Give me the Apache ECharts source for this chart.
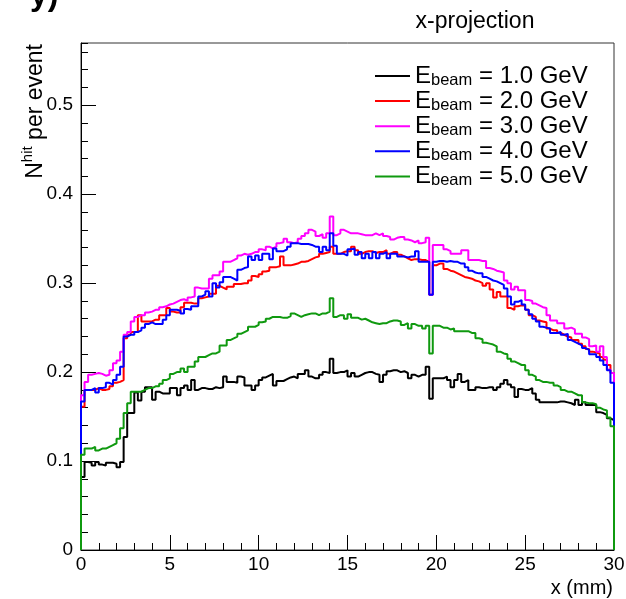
<!DOCTYPE html>
<html>
<head>
<meta charset="utf-8">
<script src="https://cdn.jsdelivr.net/npm/echarts@6/dist/echarts.min.js"></script>
<style>
html, body { margin: 0; padding: 0; background: #fff; }
#main { width: 626px; height: 599px; }
</style>
</head>
<body>
<div id="main"></div>
<script>
// bin contents, 150 bins of 0.2 mm from x = 0 to 30 mm
var binWidth = 0.2;
var energies = ['1.0', '2.0', '3.0', '4.0', '5.0'];
var colors = ['#000000', '#ff0000', '#ff00ff', '#0000ff', '#0f990f'];

var e1 = [
  0.082, 0.099, 0.098, 0.095, 0.099, 0.096, 0.095, 0.098, 0.098, 0.097,
  0.093, 0.099, 0.127, 0.154, 0.154, 0.177, 0.168, 0.178, 0.183, 0.183,
  0.169, 0.178, 0.176, 0.176, 0.176, 0.182, 0.182, 0.174, 0.182, 0.185,
  0.180, 0.191, 0.180, 0.182, 0.182, 0.181, 0.181, 0.183, 0.182, 0.183,
  0.195, 0.189, 0.189, 0.188, 0.195, 0.194, 0.185, 0.185, 0.180, 0.185,
  0.191, 0.194, 0.196, 0.198, 0.185, 0.190, 0.190, 0.192, 0.194, 0.195,
  0.193, 0.198, 0.198, 0.202, 0.195, 0.193, 0.193, 0.197, 0.200, 0.199,
  0.215, 0.199, 0.200, 0.200, 0.202, 0.195, 0.199, 0.195, 0.197, 0.199,
  0.200, 0.200, 0.198, 0.197, 0.189, 0.197, 0.201, 0.202, 0.202, 0.200,
  0.201, 0.199, 0.193, 0.197, 0.195, 0.197, 0.197, 0.206, 0.170, 0.193,
  0.193, 0.193, 0.195, 0.191, 0.183, 0.191, 0.198, 0.189, 0.191, 0.180,
  0.180, 0.183, 0.182, 0.182, 0.183, 0.183, 0.180, 0.183, 0.187, 0.191,
  0.186, 0.183, 0.172, 0.181, 0.180, 0.180, 0.182, 0.176, 0.169, 0.166,
  0.166, 0.166, 0.166, 0.166, 0.167, 0.167, 0.166, 0.165, 0.163, 0.169,
  0.163, 0.166, 0.163, 0.163, 0.163, 0.155, 0.154, 0.152, 0.148, 0.146
];
var e2 = [
  0.161, 0.180, 0.180, 0.180, 0.182, 0.180, 0.180, 0.181, 0.184, 0.188,
  0.189, 0.191, 0.238, 0.242, 0.245, 0.245, 0.264, 0.257, 0.257, 0.257,
  0.259, 0.259, 0.264, 0.264, 0.272, 0.268, 0.267, 0.267, 0.273, 0.278,
  0.278, 0.277, 0.277, 0.283, 0.284, 0.285, 0.288, 0.288, 0.297, 0.295,
  0.293, 0.296, 0.296, 0.299, 0.299, 0.300, 0.300, 0.303, 0.308, 0.307,
  0.310, 0.313, 0.314, 0.318, 0.318, 0.319, 0.330, 0.320, 0.320, 0.321,
  0.322, 0.324, 0.324, 0.325, 0.327, 0.329, 0.330, 0.333, 0.334, 0.335,
  0.341, 0.333, 0.333, 0.335, 0.336, 0.336, 0.341, 0.337, 0.333, 0.335,
  0.336, 0.336, 0.334, 0.335, 0.335, 0.337, 0.333, 0.335, 0.335, 0.332,
  0.330, 0.328, 0.326, 0.327, 0.327, 0.326, 0.326, 0.324, 0.287, 0.320,
  0.322, 0.322, 0.316, 0.314, 0.313, 0.311, 0.309, 0.307, 0.306, 0.305,
  0.303, 0.302, 0.300, 0.297, 0.300, 0.293, 0.284, 0.290, 0.285, 0.285,
  0.272, 0.270, 0.274, 0.275, 0.275, 0.270, 0.264, 0.262, 0.258, 0.257,
  0.256, 0.249, 0.247, 0.247, 0.244, 0.242, 0.240, 0.239, 0.236, 0.236,
  0.232, 0.229, 0.226, 0.223, 0.222, 0.221, 0.217, 0.214, 0.208, 0.199
];
var e3 = [
  0.174, 0.189, 0.197, 0.198, 0.199, 0.198, 0.196, 0.197, 0.202, 0.210,
  0.213, 0.223, 0.242, 0.245, 0.257, 0.262, 0.264, 0.264, 0.267, 0.268,
  0.270, 0.270, 0.273, 0.274, 0.276, 0.277, 0.279, 0.281, 0.282, 0.280,
  0.284, 0.285, 0.295, 0.294, 0.294, 0.294, 0.305, 0.309, 0.309, 0.313,
  0.324, 0.324, 0.326, 0.328, 0.331, 0.333, 0.332, 0.333, 0.335, 0.335,
  0.338, 0.337, 0.341, 0.339, 0.341, 0.345, 0.346, 0.350, 0.346, 0.345,
  0.346, 0.350, 0.353, 0.356, 0.360, 0.358, 0.353, 0.355, 0.351, 0.356,
  0.375, 0.354, 0.356, 0.360, 0.358, 0.356, 0.356, 0.356, 0.355, 0.354,
  0.354, 0.354, 0.356, 0.354, 0.356, 0.353, 0.352, 0.349, 0.351, 0.352,
  0.352, 0.349, 0.348, 0.346, 0.348, 0.345, 0.346, 0.351, 0.287, 0.343,
  0.343, 0.343, 0.338, 0.336, 0.333, 0.333, 0.333, 0.337, 0.337, 0.326,
  0.326, 0.326, 0.325, 0.325, 0.317, 0.316, 0.314, 0.313, 0.312, 0.303,
  0.300, 0.293, 0.296, 0.292, 0.292, 0.281, 0.280, 0.277, 0.275, 0.273,
  0.272, 0.264, 0.258, 0.258, 0.255, 0.255, 0.249, 0.250, 0.248, 0.243,
  0.243, 0.239, 0.237, 0.229, 0.230, 0.223, 0.229, 0.217, 0.203, 0.199
];
var e4 = [
  0.167, 0.180, 0.180, 0.182, 0.177, 0.182, 0.183, 0.188, 0.186, 0.191,
  0.197, 0.206, 0.240, 0.242, 0.242, 0.245, 0.247, 0.250, 0.254, 0.256,
  0.254, 0.254, 0.254, 0.259, 0.264, 0.270, 0.270, 0.269, 0.266, 0.271,
  0.270, 0.274, 0.274, 0.285, 0.287, 0.291, 0.285, 0.300, 0.295, 0.301,
  0.307, 0.307, 0.305, 0.303, 0.315, 0.317, 0.318, 0.330, 0.326, 0.331,
  0.326, 0.333, 0.333, 0.327, 0.339, 0.336, 0.336, 0.338, 0.341, 0.345,
  0.345, 0.344, 0.344, 0.344, 0.343, 0.341, 0.341, 0.335, 0.341, 0.337,
  0.356, 0.342, 0.333, 0.333, 0.331, 0.338, 0.339, 0.332, 0.335, 0.328,
  0.333, 0.328, 0.335, 0.328, 0.333, 0.335, 0.328, 0.333, 0.333, 0.330,
  0.330, 0.329, 0.330, 0.330, 0.336, 0.324, 0.324, 0.324, 0.287, 0.324,
  0.325, 0.325, 0.324, 0.325, 0.324, 0.324, 0.322, 0.322, 0.318, 0.314,
  0.312, 0.311, 0.311, 0.307, 0.305, 0.303, 0.302, 0.300, 0.298, 0.294,
  0.285, 0.276, 0.279, 0.281, 0.276, 0.270, 0.265, 0.260, 0.257, 0.251,
  0.250, 0.249, 0.244, 0.244, 0.245, 0.242, 0.243, 0.236, 0.234, 0.232,
  0.230, 0.227, 0.225, 0.220, 0.220, 0.217, 0.213, 0.208, 0.202, 0.188
];
var e5 = [
  0.107, 0.114, 0.114, 0.116, 0.112, 0.114, 0.114, 0.116, 0.118, 0.120,
  0.125, 0.137, 0.154, 0.165, 0.178, 0.178, 0.178, 0.180, 0.182, 0.182,
  0.184, 0.184, 0.187, 0.191, 0.193, 0.198, 0.200, 0.200, 0.204, 0.200,
  0.206, 0.206, 0.212, 0.217, 0.217, 0.219, 0.221, 0.221, 0.223, 0.230,
  0.230, 0.236, 0.238, 0.240, 0.243, 0.245, 0.247, 0.251, 0.251, 0.253,
  0.256, 0.257, 0.260, 0.262, 0.262, 0.262, 0.261, 0.261, 0.263, 0.266,
  0.264, 0.262, 0.264, 0.265, 0.266, 0.266, 0.264, 0.266, 0.266, 0.268,
  0.283, 0.262, 0.264, 0.264, 0.260, 0.265, 0.261, 0.261, 0.259, 0.260,
  0.258, 0.256, 0.255, 0.254, 0.255, 0.255, 0.257, 0.258, 0.258, 0.257,
  0.253, 0.255, 0.249, 0.254, 0.252, 0.252, 0.249, 0.252, 0.221, 0.252,
  0.252, 0.250, 0.250, 0.248, 0.249, 0.246, 0.246, 0.246, 0.246, 0.244,
  0.244, 0.238, 0.237, 0.233, 0.232, 0.231, 0.229, 0.223, 0.221, 0.220,
  0.215, 0.212, 0.210, 0.208, 0.208, 0.202, 0.197, 0.195, 0.191, 0.189,
  0.189, 0.188, 0.188, 0.185, 0.183, 0.180, 0.178, 0.178, 0.176, 0.174,
  0.174, 0.166, 0.165, 0.165, 0.164, 0.160, 0.158, 0.157, 0.149, 0.139
];
var histos = [e1, e2, e3, e4, e5];

var font = 'Liberation Sans, Arial, Helvetica, sans-serif';

// histogram outline: left edge of every bin, closed down to 0 at both ends
function steps(vals) {
  var pts = [[0, 0]];
  for (var i = 0; i < vals.length; i++) {
    pts.push([+(i * binWidth).toFixed(2), vals[i]]);
  }
  var xEnd = +(vals.length * binWidth).toFixed(2);
  pts.push([xEnd, vals[vals.length - 1]]);
  pts.push([xEnd, 0]);
  return pts;
}

var chart = echarts.init(document.getElementById('main'), null, { renderer: 'canvas' });

chart.setOption({
  animation: false,
  backgroundColor: '#fff',
  grid: {
    left: 81, right: 12, top: 43, bottom: 49,
    show: true, borderColor: '#333', borderWidth: 1,
    outerBoundsMode: 'none'
  },
  xAxis: {
    type: 'value', min: 0, max: 30, interval: 5,
    axisLine: { show: true, lineStyle: { color: '#000', width: 1 } },
    axisTick: { show: true, inside: true, length: 15, lineStyle: { color: '#000' } },
    minorTick: { show: true, splitNumber: 5, length: 7, lineStyle: { color: '#000' } },
    splitLine: { show: false },
    axisLabel: { color: '#000', fontSize: 19, fontFamily: font, margin: 5 }
  },
  yAxis: [{
    type: 'value', min: 0, max: 0.57, interval: 0.1,
    axisLine: { show: true, lineStyle: { color: '#000', width: 1 } },
    axisTick: { show: true, inside: true, length: 15, lineStyle: { color: '#000' } },
    splitLine: { show: false },
    axisLabel: {
      color: '#000', fontSize: 19, fontFamily: font, margin: 8, showMaxLabel: false,
      formatter: function (v) { return v === 0 ? '0' : v.toFixed(1); }
    }
  }, {
    // minor ticks every 0.02
    type: 'value', min: 0, max: 0.57, interval: 0.02, position: 'left',
    axisLine: { show: false },
    axisTick: { show: true, inside: true, length: 7, lineStyle: { color: '#000' } },
    axisLabel: { show: false },
    splitLine: { show: false }
  }],
  legend: {
    orient: 'vertical', left: 375, top: 64, padding: 0,
    icon: 'rect', itemWidth: 35, itemHeight: 2, itemGap: 0.6,
    data: energies.map(function (e) { return e + ' GeV'; }),
    formatter: function (name) { return '{e|E}{s|beam}{t| = ' + name + '}'; },
    textStyle: {
      color: '#000', fontFamily: font,
      rich: {
        e: { fontSize: 24, lineHeight: 25, fontFamily: font, color: '#000' },
        s: { fontSize: 16.5, lineHeight: 6, verticalAlign: 'bottom', fontFamily: font, color: '#000' },
        t: { fontSize: 24, lineHeight: 25, fontFamily: font, color: '#000' }
      }
    }
  },
  graphic: [{
    type: 'text', x: 30, y: 12,
    style: { text: 'y)', fontSize: 32, fontWeight: 'bold', fontFamily: font, fill: '#000', align: 'left', verticalAlign: 'bottom' }
  }, {
    type: 'text', x: 475, y: 22,
    style: { text: 'x-projection', fontSize: 23, fontFamily: font, fill: '#000', align: 'center', verticalAlign: 'middle' }
  }, {
    type: 'text', x: 613, y: 588,
    style: { text: 'x (mm)', fontSize: 20, fontFamily: font, fill: '#000', align: 'right', verticalAlign: 'middle' }
  }, {
    type: 'text', x: 36, y: 44, rotation: Math.PI / 2,
    style: {
      text: '{n|N}{h|hit}{p| per event}', align: 'right', verticalAlign: 'middle', fill: '#000',
      rich: {
        n: { fontSize: 23, lineHeight: 32, fontFamily: font, fill: '#000' },
        h: { fontSize: 15, lineHeight: 9, verticalAlign: 'top', fontFamily: font, fill: '#000' },
        p: { fontSize: 23, lineHeight: 32, fontFamily: font, fill: '#000' }
      }
    }
  }],
  series: histos.map(function (vals, k) {
    return {
      name: energies[k] + ' GeV',
      type: 'line',
      step: 'end',
      data: steps(vals),
      symbol: 'none',
      showSymbol: false,
      color: colors[k],
      lineStyle: { color: colors[k], width: 2 },
      z: 2 + k
    };
  })
});
</script>
</body>
</html>
